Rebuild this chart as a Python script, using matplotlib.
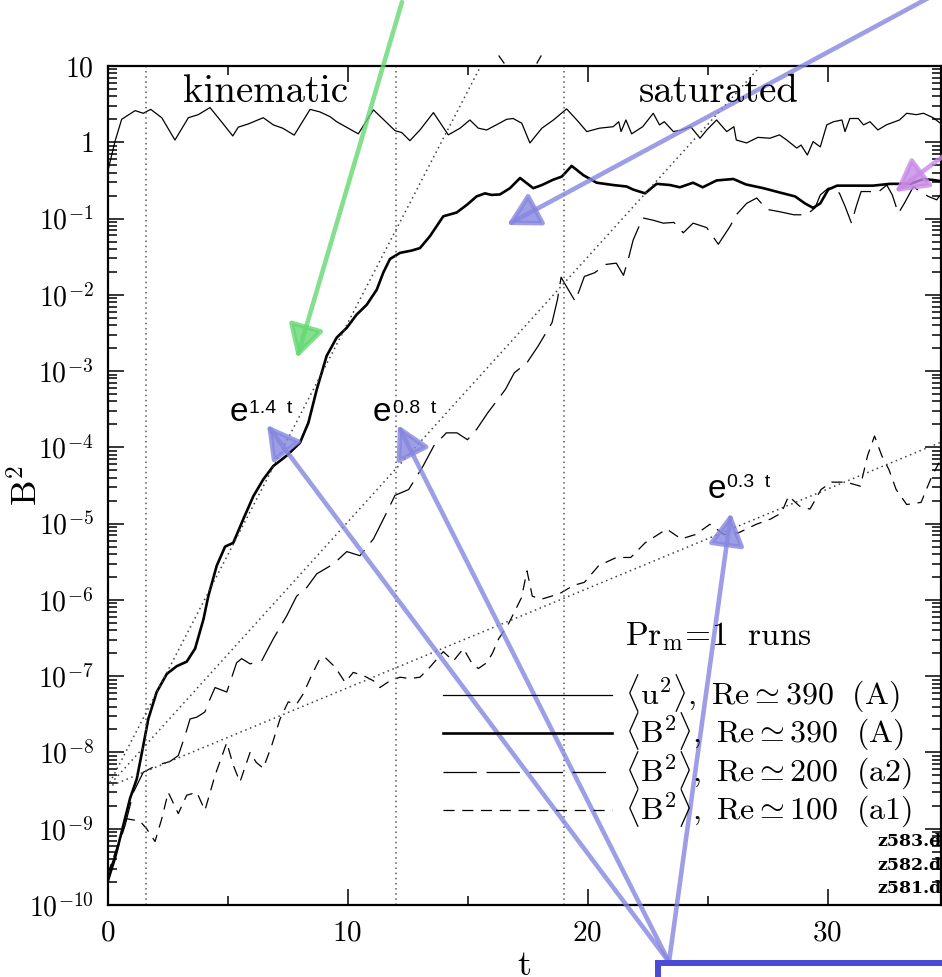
import numpy as np
import matplotlib
matplotlib.use('Agg')
import matplotlib.pyplot as plt
from matplotlib.ticker import LogLocator, FuncFormatter, MultipleLocator, NullFormatter
from matplotlib.lines import Line2D
from matplotlib.patches import Rectangle

# ---------------- data ----------------
t_u2 = [0.0, 0.03, 0.31, 0.59, 1.15, 1.49, 1.8, 2.26, 2.81, 3.37, 3.78, 4.27, 4.69, 5.22, 5.45,
        5.87, 6.49, 6.91, 7.3, 7.78, 8.44, 8.85, 9.27, 9.55, 10.45, 11.08, 11.49, 11.98, 12.26,
        12.6, 13.02, 13.58, 14.2, 14.69, 15.1, 15.45, 15.8, 16.2, 16.63, 16.9, 17.26, 17.6,
        18.1, 18.58, 19.13, 19.62, 19.97, 20.5, 21.07, 21.3, 21.4, 21.6, 21.84, 22.3, 22.74,
        23.0, 23.2, 23.58, 23.93, 24.3, 24.69, 24.97, 25.38, 25.8, 26.1, 26.2, 26.63, 27.1,
        27.6, 28.0, 28.3, 28.72, 28.9, 29.16, 29.4, 29.7, 29.97, 30.25, 30.6, 30.73, 30.93,
        31.28, 31.5, 31.77, 32.1, 32.45, 33.0, 33.3, 33.7, 34.0, 34.4, 34.7]
u2 = [0.35, 0.44, 1.02, 2.0, 2.6, 2.4, 2.7, 2.1, 1.07, 2.1, 2.3, 2.85, 1.96, 1.21, 1.58,
      1.74, 2.1, 1.69, 1.53, 1.24, 2.7, 2.5, 2.17, 1.86, 1.29, 2.66, 2.0, 1.42, 1.34,
      1.05, 1.45, 2.45, 1.25, 1.53, 1.96, 1.53, 1.45, 1.69, 2.0, 2.05, 1.78, 0.98,
      1.53, 1.96, 2.74, 1.86, 1.38, 1.53, 1.6, 1.86, 1.38, 1.96, 1.29, 1.6, 2.4,
      1.69, 1.86, 1.38, 1.45, 1.6, 1.13, 1.45, 1.96, 1.38, 1.6, 1.07, 0.98, 1.16,
      1.13, 1.25, 1.07, 0.84, 0.92, 0.68, 1.02, 0.87, 1.69, 1.86, 1.96, 1.38, 2.05,
      2.05, 1.69, 1.86, 1.45, 1.69, 1.96, 2.4, 2.3, 2.4, 2.1, 1.78]

t_B2A = [0.0, 0.31, 0.59, 0.94, 1.22, 1.49, 1.7, 2.05, 2.47, 2.88, 3.3, 3.65, 4.0, 4.2, 4.55,
         4.9, 5.24, 5.66, 6.08, 6.49, 6.91, 7.47, 8.02, 8.37, 8.72, 9.13, 9.55, 9.97, 10.38,
         10.8, 11.22, 11.49, 11.77, 12.19, 12.67, 13.02, 13.44, 13.99, 14.55, 14.97, 15.38,
         15.73, 16.0, 16.35, 16.77, 17.19, 17.74, 18.1, 18.58, 18.93, 19.34, 19.83, 20.38,
         21.07, 21.63, 21.9, 22.4, 22.88, 23.44, 23.85, 24.4, 24.8, 25.38, 26.08, 26.6, 27.33,
         28.0, 28.65, 29.06, 29.4, 29.7, 30.03, 30.4, 31.1, 31.9, 32.6, 33.46, 34.0, 34.4, 34.7]
B2A = [2.0e-10, 4.1e-10, 9.1e-10, 2.5e-9, 4.5e-9, 1.23e-8, 2.75e-8, 6.2e-8, 1.07e-7, 1.35e-7,
       1.55e-7, 2.3e-7, 5.6e-7, 1.12e-6, 2.8e-6, 5.0e-6, 5.6e-6, 1.15e-5, 2.3e-5, 3.8e-5,
       5.7e-5, 7.8e-5, 1.15e-4, 2.1e-4, 5.75e-4, 1.58e-3, 2.75e-3, 3.7e-3, 5.5e-3, 7.4e-3,
       1.17e-2, 1.95e-2, 2.95e-2, 3.55e-2, 3.8e-2, 4.1e-2, 5.9e-2, 0.107, 0.12, 0.151, 0.195,
       0.214, 0.204, 0.207, 0.25, 0.34, 0.25, 0.275, 0.324, 0.355, 0.49, 0.37, 0.295,
       0.275, 0.263, 0.24, 0.214, 0.285, 0.275, 0.257, 0.295, 0.257, 0.316, 0.33, 0.28, 0.25,
       0.22, 0.195, 0.158, 0.138, 0.158, 0.24, 0.27, 0.27, 0.27, 0.285, 0.285, 0.33, 0.32, 0.31]

t_a2 = [0.0, 0.38, 0.73, 1.08, 1.49, 2.05, 2.6, 2.95, 3.23, 3.44, 3.72, 4.06, 4.27, 4.48, 4.97,
        5.38, 5.59, 5.94, 6.42, 6.91, 7.47, 7.88, 8.3, 8.72, 9.41, 9.97, 10.52, 11.08, 11.56,
        11.98, 12.55, 13.15, 13.6, 14.12, 14.56, 15.0, 15.39, 15.83, 16.58, 16.95, 17.48,
        17.93, 18.52, 18.75, 18.9, 19.12, 19.49, 19.87, 20.3, 20.76, 21.2, 21.5, 21.73, 21.9,
        22.3, 22.74, 23.16, 23.6, 23.99, 24.4, 24.97, 25.45, 25.94, 26.2, 26.63, 27.05, 27.47,
        28.0, 28.6, 29.13, 29.48, 29.7, 30.03, 30.3, 30.5, 30.73, 31.0, 31.2, 31.4, 31.77,
        32.05, 32.47, 32.7, 32.95, 33.2, 33.58, 33.85, 34.2, 34.55, 34.7]
a2 = [2.5e-10, 5.0e-10, 1.1e-9, 3.0e-9, 5.5e-9, 6.8e-9, 7.6e-9, 9.1e-9, 1.66e-8, 2.75e-8,
      2.9e-8, 3.4e-8, 5.0e-8, 7.1e-8, 6.2e-8, 1.5e-7, 1.7e-7, 1.45e-7, 1.58e-7, 3.1e-7,
      6.2e-7, 1.12e-6, 1.45e-6, 2.2e-6, 2.95e-6, 4.3e-6, 3.8e-6, 6.3e-6, 1.26e-5, 2.35e-5,
      2.8e-5, 5.7e-5, 1.05e-4, 1.55e-4, 1.55e-4, 1.26e-4, 1.74e-4, 2.8e-4, 5.75e-4, 9.5e-4,
      1.29e-3, 2.1e-3, 4.3e-3, 8.7e-3, 1.7e-2, 1.29e-2, 8.2e-3, 1.74e-2, 1.95e-2, 2.5e-2,
      2.6e-2, 1.8e-2, 3.2e-2, 5.2e-2, 0.102, 0.095, 0.087, 0.089, 0.065, 0.087, 0.076,
      0.046, 0.079, 0.112, 0.158, 0.186, 0.132, 0.123, 0.112, 0.112, 0.138, 0.204, 0.25,
      0.25, 0.214, 0.145, 0.087, 0.145, 0.226, 0.226, 0.214, 0.275, 0.204, 0.117, 0.158,
      0.263, 0.226, 0.195, 0.176, 0.204]

t_a1 = [0.0, 0.52, 0.8, 1.35, 1.63, 1.98, 2.26, 2.53, 2.95, 3.3, 3.72, 4.06, 4.48, 4.97, 5.24,
        5.52, 5.94, 6.2, 6.49, 6.84, 7.19, 7.53, 7.88, 8.16, 8.5, 8.85, 9.05, 9.48, 9.9,
        10.24, 10.66, 11.08, 11.35, 11.77, 12.19, 12.6, 13.02, 13.44, 13.99, 14.41, 14.83,
        15.17, 15.45, 15.8, 16.04, 16.3, 16.67, 17.25, 17.48, 17.7, 18.07, 18.82, 19.42,
        19.87, 20.46, 21.2, 21.8, 22.4, 23.3, 23.9, 24.5, 25.1, 25.7, 26.3, 27.03, 27.63,
        28.08, 28.38, 28.83, 29.27, 29.73, 30.17, 30.77, 31.37, 31.67, 31.96, 32.26, 32.56,
        32.86, 33.3, 33.9, 34.35, 34.65]
a1 = [2.5e-10, 7.4e-10, 1.35e-9, 1.26e-9, 1.0e-9, 6.8e-10, 1.35e-9, 3.0e-9, 1.58e-9, 2.75e-9,
      3.0e-9, 1.74e-9, 5.0e-9, 1.35e-8, 6.8e-9, 4.1e-9, 1.0e-8, 7.4e-9, 6.2e-9, 1.23e-8,
      2.75e-8, 4.6e-8, 4.3e-8, 5.9e-8, 1.02e-7, 1.7e-7, 1.78e-7, 1.32e-7, 8.3e-8, 1.12e-7,
      1.02e-7, 8.7e-8, 7.1e-8, 8.7e-8, 9.7e-8, 9.3e-8, 9.7e-8, 1.32e-7, 2.1e-7, 1.58e-7,
      2.3e-7, 1.5e-7, 1.26e-7, 1.5e-7, 2.0e-7, 3.1e-7, 4.6e-7, 1.07e-6, 2.4e-6, 1.12e-6,
      1.02e-6, 1.2e-6, 1.55e-6, 1.7e-6, 2.8e-6, 3.6e-6, 3.6e-6, 5.6e-6, 8.5e-6, 6.3e-6,
      7.2e-6, 9.8e-6, 7.2e-6, 7.6e-6, 9.8e-6, 1.15e-5, 1.38e-5, 2.3e-5, 1.7e-5, 1.55e-5,
      2.8e-5, 3.5e-5, 3.5e-5, 3.1e-5, 7.8e-5, 1.41e-4, 7.8e-5, 5.1e-5, 2.8e-5, 1.78e-5,
      1.9e-5, 4.2e-5, 6.3e-5]

fit_rates = [1.4, 0.8, 0.3]        # e^{rate t}
fit_amp = 3.5e-9
phase_t = [1.6, 12.0, 19.0]        # vertical dotted lines

legend_labels = [r'$\langle \mathrm{u}^2\rangle,\ \mathrm{Re}\simeq 390\ \ (\mathrm{A})$',
                 r'$\langle \mathrm{B}^2\rangle,\ \mathrm{Re}\simeq 390\ \ (\mathrm{A})$',
                 r'$\langle \mathrm{B}^2\rangle,\ \mathrm{Re}\simeq 200\ \ (\mathrm{a2})$',
                 r'$\langle \mathrm{B}^2\rangle,\ \mathrm{Re}\simeq 100\ \ (\mathrm{a1})$']
file_labels = ['z583.dat', 'z582.dat', 'z581.dat']

# ---------------- style ----------------
plt.rcParams['font.family'] = ['cmr10', 'DejaVu Serif']
plt.rcParams['mathtext.fontset'] = 'cm'
plt.rcParams['axes.unicode_minus'] = False
plt.rcParams['axes.formatter.use_mathtext'] = True
plt.rcParams['lines.scale_dashes'] = False

W, H = 942, 977
fig = plt.figure(figsize=(W / 100, H / 100), dpi=100)
L, R, T, B = 107.5, 941.0, 66.0, 905.0
ax = fig.add_axes([L / W, 1 - B / H, (R - L) / W, (B - T) / H])

def fx(px):
    return px / W

def fy(py):
    return 1 - py / H

DASH_LONG = (0, (24, 7))
DASH_SHORT = (0, (8, 5.5))
DOTS = (0, (1.1, 2.6))

styles = [dict(color='k', lw=0.9, ls='-'),
          dict(color='k', lw=1.9, ls='-'),
          dict(color='k', lw=0.9, ls=DASH_LONG),
          dict(color='k', lw=0.9, ls=DASH_SHORT)]

ax.plot(t_u2, u2, **styles[0])
ax.plot(t_B2A, B2A, **styles[1])
ax.plot(t_a2, a2, **styles[2])
ax.plot(t_a1, a1, **styles[3])

tt = np.linspace(0, 36, 200)
for r in fit_rates:
    ax.plot(tt, fit_amp * np.exp(r * tt), color='0.25', lw=1.1, ls=DOTS)
for tp in phase_t:
    ax.axvline(tp, color='0.35', lw=1.1, ls=DOTS)

ax.set_yscale('log')
ax.set_xlim(0, (R - L) / 24.0)
ax.set_ylim(1e-10, 10)

ax.yaxis.set_major_locator(LogLocator(base=10, numticks=100))
ax.yaxis.set_minor_locator(LogLocator(base=10, subs=np.arange(2, 10), numticks=100))
ax.yaxis.set_minor_formatter(NullFormatter())

def yfmt(v, pos):
    e = int(round(np.log10(v)))
    if e == 1:
        return r'$10$'
    if e == 0:
        return r'$1$'
    return r'$10^{%d}$' % e

ax.yaxis.set_major_formatter(FuncFormatter(yfmt))
ax.xaxis.set_major_locator(MultipleLocator(10))
ax.xaxis.set_minor_locator(MultipleLocator(5))
ax.xaxis.set_major_formatter(FuncFormatter(lambda v, p: r'$%d$' % v))

ax.tick_params(which='both', direction='in', top=True, right=True, width=1.1)
ax.tick_params(which='major', length=11.5)
ax.tick_params(which='minor', length=6.5)
ax.tick_params(axis='y', which='major', labelsize=20, pad=10)
ax.tick_params(axis='x', which='major', labelsize=21, pad=11)
for s in ax.spines.values():
    s.set_linewidth(1.6)

ax.set_ylabel(r'$\mathrm{B}^2$', fontsize=26)
ax.yaxis.set_label_coords(-0.075, 0.5)
ax.set_xlabel(r'$\mathrm{t}$', fontsize=26)
ax.xaxis.set_label_coords(0.5, -0.054)

# phase labels
fig.text(fx(266), fy(102), 'kinematic', ha='center', va='baseline', fontsize=28)
fig.text(fx(719), fy(102), 'saturated', ha='center', va='baseline', fontsize=28)

# growth-rate labels
SANS = ['Liberation Sans', 'DejaVu Sans']
for (ex, eb, sx, sb, s) in [(230, 421, 249, 413, '1.4  t'),
                            (373, 421, 393, 413, '0.8  t'),
                            (708, 498, 727, 487, '0.3  t')]:
    fig.text(fx(ex), fy(eb), 'e', family=SANS, fontsize=24, ha='left', va='baseline')
    fig.text(fx(sx), fy(sb), s, family=SANS, fontsize=14, ha='left', va='baseline')

# legend (drawn manually)
fig.text(fx(625), fy(645), r'$\mathrm{Pr_m\!=\!1\ \ runs}$', fontsize=24, ha='left', va='baseline')
rows = [695, 733, 772, 810]
for st, lab, ry in zip(styles, legend_labels, rows):
    fig.add_artist(Line2D([fx(443), fx(612)], [fy(ry), fy(ry)], transform=fig.transFigure, **st))
    fig.text(fx(625), fy(ry + 10), lab, fontsize=23, ha='left', va='baseline')

for lab, by in zip(file_labels, [846, 870, 893]):
    fig.text(fx(877), fy(by), lab, family=['DejaVu Serif'],
             fontsize=12.5, weight='bold', ha='left', va='baseline')

# small stray strokes above the frame
fig.add_artist(Line2D([fx(499), fx(504)], [fy(56), fy(63)], transform=fig.transFigure, color='k', lw=0.9))
fig.add_artist(Line2D([fx(541), fx(537)], [fy(56), fy(63)], transform=fig.transFigure, color='k', lw=0.9))

# ---------------- overlay annotation arrows ----------------
def arrow(start, tip, color, lw=3.3, alpha=0.8):
    ax.annotate('', xy=(tip[0], H - tip[1]), xytext=(start[0], H - start[1]),
                xycoords='figure pixels', textcoords='figure pixels',
                arrowprops=dict(arrowstyle='-|>,head_length=0.9,head_width=0.5',
                                mutation_scale=22, lw=lw, color=color, alpha=alpha,
                                shrinkA=0, shrinkB=0),
                annotation_clip=False, zorder=10)

GREEN = '#66d872'
BLUE = '#8686e0'
PINK = '#c88ae6'
arrow((402, 2), (297, 358), GREEN)
arrow((932, -4), (507, 225), BLUE)
arrow((961, 143), (895, 192), PINK)
arrow((669, 962), (267, 425), BLUE)
arrow((669, 962), (398, 425), BLUE)
arrow((669, 962), (731, 513), BLUE)

fig.add_artist(Rectangle((fx(658), -0.2), 1.0, 0.2 + (H - 963) / H, transform=fig.transFigure,
                         fill=False, edgecolor='#4a4ad6', lw=4.3, zorder=11))

fig.savefig('out.png', dpi=100)
